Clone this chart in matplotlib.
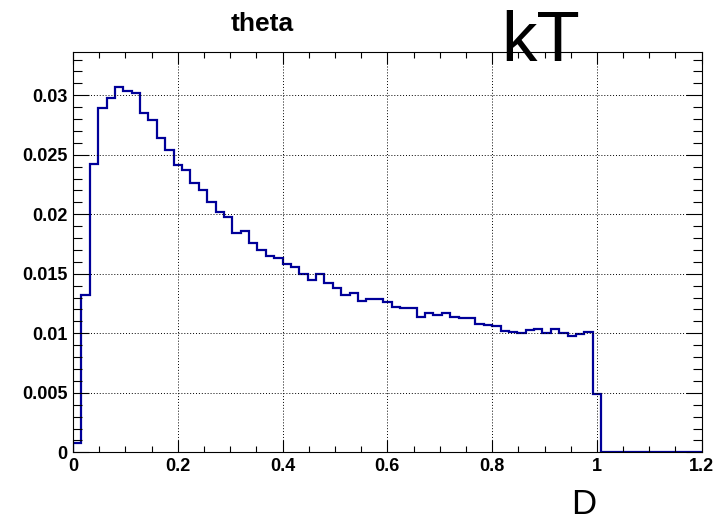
import numpy as np
import matplotlib
matplotlib.use("Agg")
import matplotlib.pyplot as plt
from matplotlib.ticker import MultipleLocator, FixedLocator

plt.rcParams["font.family"] = ["Liberation Sans", "DejaVu Sans"]

X_MIN, X_MAX, N_BINS = 0.0, 1.2, 75

# bin contents of the "theta" histogram
counts = [
    0.0008, 0.0132, 0.0242, 0.0289, 0.0298, 0.0307, 0.0304, 0.0302, 0.0285, 0.0279,
    0.0264, 0.0254, 0.0241, 0.0237, 0.0226, 0.0220, 0.0210, 0.0202, 0.0198, 0.0184,
    0.0186, 0.0176, 0.0170, 0.0165, 0.0163, 0.0158, 0.0156, 0.0150, 0.0145, 0.0150,
    0.0142, 0.0138, 0.0132, 0.0134, 0.0127, 0.0129, 0.0129, 0.0126, 0.0122, 0.0121,
    0.0121, 0.0114, 0.0117, 0.0115, 0.0117, 0.0114, 0.0113, 0.0113, 0.0108, 0.0107,
    0.0106, 0.0102, 0.0101, 0.0100, 0.0103, 0.0104, 0.0100, 0.0104, 0.0100, 0.0098,
    0.0099, 0.0101, 0.0049, 0.0, 0.0, 0.0, 0.0, 0.0, 0.0, 0.0,
    0.0, 0.0, 0.0, 0.0, 0.0,
]
edges = np.linspace(X_MIN, X_MAX, N_BINS + 1)

x_ticks = [0, 0.2, 0.4, 0.6, 0.8, 1.0, 1.2]
x_labels = ["0", "0.2", "0.4", "0.6", "0.8", "1", "1.2"]
y_ticks = [0, 0.005, 0.01, 0.015, 0.02, 0.025, 0.03]
y_labels = ["0", "0.005", "0.01", "0.015", "0.02", "0.025", "0.03"]

fig = plt.figure(figsize=(7.16, 5.22), dpi=100)
ax = fig.add_axes([0.102, 0.1335, 0.878, 0.767])

ax.stairs(counts, edges, baseline=0, color="#000099", linewidth=1.6)

ax.set_xlim(X_MIN, X_MAX)
ax.set_ylim(0, 0.03364)

ax.xaxis.set_major_locator(FixedLocator(x_ticks))
ax.set_xticklabels(x_labels)
ax.xaxis.set_minor_locator(MultipleLocator(0.05))
ax.yaxis.set_major_locator(FixedLocator(y_ticks))
ax.set_yticklabels(y_labels)
ax.yaxis.set_minor_locator(MultipleLocator(0.001))

ax.tick_params(axis="both", which="both", direction="in", top=True, right=True,
               color="black", width=0.8)
ax.tick_params(axis="x", which="major", length=8.6, pad=4, labelsize=13)
ax.tick_params(axis="x", which="minor", length=4.3)
ax.tick_params(axis="y", which="major", length=11.5, pad=4, labelsize=13)
ax.tick_params(axis="y", which="minor", length=6.5)
for lab in ax.get_xticklabels() + ax.get_yticklabels():
    lab.set_fontweight("bold")

ax.grid(True, which="major", color="black", linestyle=(0, (1, 2)), linewidth=0.7)
for sp in ax.spines.values():
    sp.set_linewidth(0.8)

fig.text(262 / 716, 1 - 31 / 522, "theta", ha="center", va="baseline",
         fontsize=19, fontweight="bold")
fig.text(541 / 716, 1 - 61 / 522, "kT", ha="center", va="baseline", fontsize=51)
fig.text(584 / 716, 1 - 514 / 522, "D", ha="center", va="baseline", fontsize=25)

fig.savefig("out.png", dpi=100)
